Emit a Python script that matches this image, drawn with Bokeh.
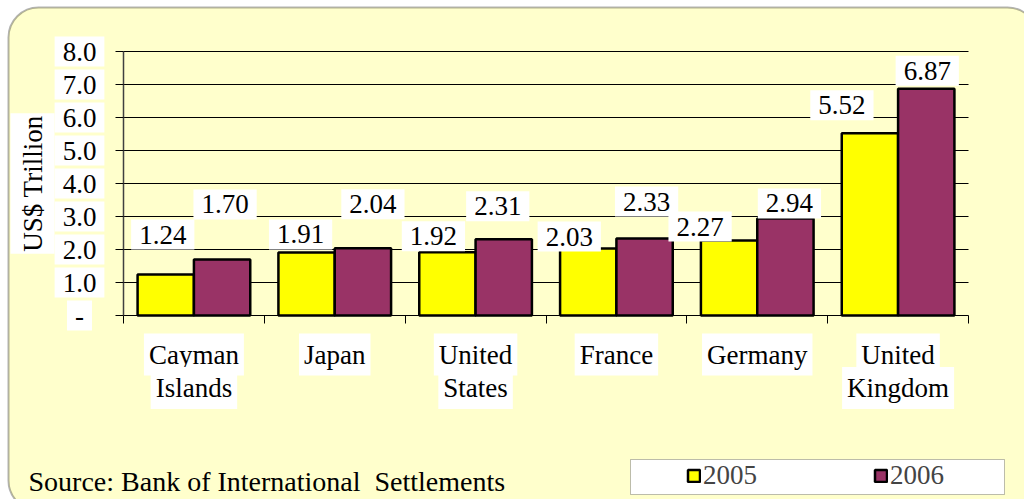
import math
from bokeh.plotting import figure
from bokeh.models import (Range1d, FixedTicker, Label, Legend, LegendItem, LinearAxis, Grid,
                          BoxAnnotation)
from bokeh.embed import file_html
from bokeh.resources import INLINE

# ---- data ----
categories = ["Cayman Islands", "Japan", "United States", "France", "Germany", "United Kingdom"]
series_names = ["2005", "2006"]
values_2005 = [1.24, 1.91, 1.92, 2.03, 2.27, 5.52]
values_2006 = [1.70, 2.04, 2.31, 2.33, 2.94, 6.87]
y_ticks = [0, 1, 2, 3, 4, 5, 6, 7, 8]
y_tick_labels = ["-", "1.0", "2.0", "3.0", "4.0", "5.0", "6.0", "7.0", "8.0"]
y_axis_title = "US$ Trillion"
source_note = "Source: Bank of International\u00a0 Settlements"

# ---- style / layout ----
FONT = "Liberation Serif"
FS = "27px"
BG = "#FFFFCC"
C05 = "#FFFF00"
C06 = "#993366"
W, H = 1024, 499
PX_LEFT, PX_RIGHT, PX_ZERO, PX_TOP = 123, 968, 315, 51
Y_MAX = y_ticks[-1]
N = len(categories)
sx = (PX_RIGHT - PX_LEFT) / N        # pixels per category
sy = (PX_ZERO - PX_TOP) / Y_MAX      # pixels per unit


def px_x(px):
    return (px - PX_LEFT) / sx


def px_y(py):
    return (PX_ZERO - py) / sy


# label nudges in pixels (dx, dy) as placed in the original chart
dx_05 = [-3, -6, -14, -19, -29, -28]
dy_05 = [40, 18, 16, 12, 14, 28]
dx_06 = [3, 10, -6, 2, 4, 1]
dy_06 = [55, 44, 33, 37, 15, 18]

p = figure(width=W, height=H, x_range=Range1d(px_x(0), px_x(W)), y_range=Range1d(px_y(H), px_y(0)),
           output_backend="svg", toolbar_location=None, x_axis_location=None, y_axis_location=None,
           min_border=0, min_border_left=0, min_border_right=0, min_border_top=0, min_border_bottom=0,
           background_fill_color="white", border_fill_color="white", outline_line_color=None)
p.center = [r for r in p.center if not isinstance(r, Grid)]

# rounded chart background
p.add_layout(BoxAnnotation(left=px_x(8), right=px_x(1037), top=px_y(7), bottom=px_y(510),
                           fill_color=BG, fill_alpha=1, line_color="black", line_width=2,
                           border_radius=30, level="image"))

# axes drawn at the plot-area edges
yax = LinearAxis(fixed_location=0, bounds=(0, Y_MAX), ticker=FixedTicker(ticks=y_ticks),
                 major_tick_out=8, major_tick_in=0, minor_tick_line_color=None,
                 major_label_text_color=None, axis_line_color="#404040", axis_line_width=1.5,
                 major_tick_line_color="black")
xax = LinearAxis(fixed_location=0, bounds=(0, N), ticker=FixedTicker(ticks=list(range(N + 1))),
                 major_tick_out=8, major_tick_in=0, minor_tick_line_color=None,
                 major_label_text_color=None, axis_line_color="black", major_tick_line_color="black")
p.add_layout(yax, "left")
p.add_layout(xax, "below")

grid = Grid(dimension=1, ticker=FixedTicker(ticks=y_ticks[1:]), cross_bounds=(0, N),
            grid_line_color="black", grid_line_width=1)
p.add_layout(grid)

x05 = [i + 0.3 for i in range(N)]
x06 = [i + 0.7 for i in range(N)]
r05 = p.vbar(x=x05, top=values_2005, width=0.4, fill_color=C05, line_color="black", line_width=2.5)
r06 = p.vbar(x=x06, top=values_2006, width=0.4, fill_color=C06, line_color="black", line_width=2.5)


def add_label(x, y, text, xo=0, yo=0, align="center", pad=(8, 8, 6, 6), bg="white", angle=0, size=FS):
    lab = Label(x=x, y=y, text=text, x_offset=xo, y_offset=yo, text_align=align, text_baseline="middle",
                text_font=FONT, text_font_size=size, text_color="black", angle=angle,
                background_fill_color=bg, border_line_color=None,
                padding=dict(left=pad[0], right=pad[1], top=pad[2], bottom=pad[3]))
    p.add_layout(lab)
    return lab


# data labels
for i in range(N):
    add_label(x05[i], values_2005[i], f"{values_2005[i]:.2f}", dx_05[i], dy_05[i])
    add_label(x06[i], values_2006[i], f"{values_2006[i]:.2f}", dx_06[i], dy_06[i])

# y tick labels
for t, s in zip(y_ticks, y_tick_labels):
    add_label(0, t, s, -44, 0, pad=(8, 8, 6, 6))

# y axis title
add_label(0, Y_MAX / 2, y_axis_title, -91, 0, pad=(2, 2, 7, 7), angle=math.pi / 2)

# category labels (wrapped on first space)
for i, c in enumerate(categories):
    for j, line in enumerate(c.split(" ", 1)):
        add_label(i + 0.5, 0, line, 0, -39 - 33.5 * j, pad=(5, 5, 6, 6))

# source note
add_label(px_x(28), px_y(481), source_note, align="left", pad=(0, 0, 0, 0), bg=None, size="28px")

# legend
p.add_layout(BoxAnnotation(left=px_x(630), right=px_x(1004), top=px_y(459), bottom=px_y(494),
                           fill_color="white", fill_alpha=1, line_color="#222222", line_width=1,
                           level="underlay"))
legend = Legend(items=[LegendItem(label=series_names[0], renderers=[r05]),
                       LegendItem(label=series_names[1], renderers=[r06])],
                orientation="horizontal", location=(686, H - 491), padding=0, margin=0, spacing=116,
                glyph_width=15, glyph_height=15, label_standoff=2, label_height=29,
                label_text_font=FONT, label_text_font_size=FS,
                background_fill_alpha=0, border_line_color=None)
p.add_layout(legend, "center")

open("out.html", "w").write(file_html(p, INLINE))
